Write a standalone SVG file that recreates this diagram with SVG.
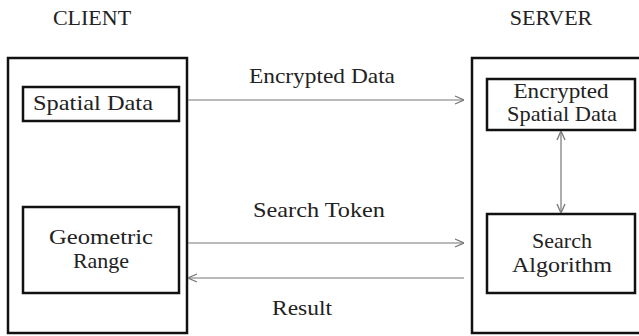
<svg xmlns="http://www.w3.org/2000/svg" width="639" height="336" viewBox="0 0 639 336">
<defs>
<style>
text{font-family:'Liberation Serif','Times New Roman','DejaVu Serif',serif;fill:#222;font-size:22px;text-anchor:middle}
.outer{fill:none;stroke:#111;stroke-width:2.5}
.inner{fill:#fff;stroke:#111;stroke-width:2.5}
.conn{stroke:#777;stroke-width:1.2;fill:none}
</style>
<marker id="arr" viewBox="0 0 10 10" refX="10" refY="5" markerWidth="10" markerHeight="10" markerUnits="userSpaceOnUse" orient="auto-start-reverse">
<path d="M1,1 L10,5 L1,9" fill="none" stroke="#777" stroke-width="1.3"/>
</marker>
</defs>
<rect width="639" height="336" fill="#fff"/>
<g id="client">
<text x="92" y="25">CLIENT</text>
<rect class="outer" x="8" y="58" width="179" height="275"/>
</g>
<g id="server">
<text x="551" y="25">SERVER</text>
<rect class="outer" x="472" y="58" width="180" height="275"/>
</g>
<g id="spatial-data">
<rect class="inner" x="23" y="87" width="156" height="34"/>
<text x="93" y="110" textLength="120" lengthAdjust="spacingAndGlyphs">Spatial Data</text>
</g>
<g id="geometric-range">
<rect class="inner" x="23" y="207" width="156" height="86"/>
<text x="101" y="244" textLength="104" lengthAdjust="spacingAndGlyphs">Geometric</text>
<text x="101" y="268">Range</text>
</g>
<g id="encrypted-spatial-data">
<rect class="inner" x="487" y="79" width="148" height="51"/>
<text x="561" y="98" font-size="20" textLength="95" lengthAdjust="spacingAndGlyphs">Encrypted</text>
<text x="562" y="120.5" font-size="20" textLength="110" lengthAdjust="spacingAndGlyphs">Spatial Data</text>
</g>
<g id="search-algorithm">
<rect class="inner" x="487" y="214" width="148" height="79"/>
<text x="562" y="248">Search</text>
<text x="562" y="272" textLength="100" lengthAdjust="spacingAndGlyphs">Algorithm</text>
</g>
<g id="connectors">
<line class="conn" x1="188" y1="100" x2="464" y2="100" marker-end="url(#arr)"/>
<text x="322" y="83" textLength="146" lengthAdjust="spacingAndGlyphs">Encrypted Data</text>
<line class="conn" x1="188" y1="243" x2="464" y2="243" marker-end="url(#arr)"/>
<text x="319" y="217" textLength="132" lengthAdjust="spacingAndGlyphs">Search Token</text>
<line class="conn" x1="464" y1="278" x2="188" y2="278" marker-end="url(#arr)"/>
<text x="302" y="315" textLength="60" lengthAdjust="spacingAndGlyphs">Result</text>
<line class="conn" x1="561" y1="131" x2="561" y2="213" marker-start="url(#arr)" marker-end="url(#arr)"/>
</g>
</svg>
